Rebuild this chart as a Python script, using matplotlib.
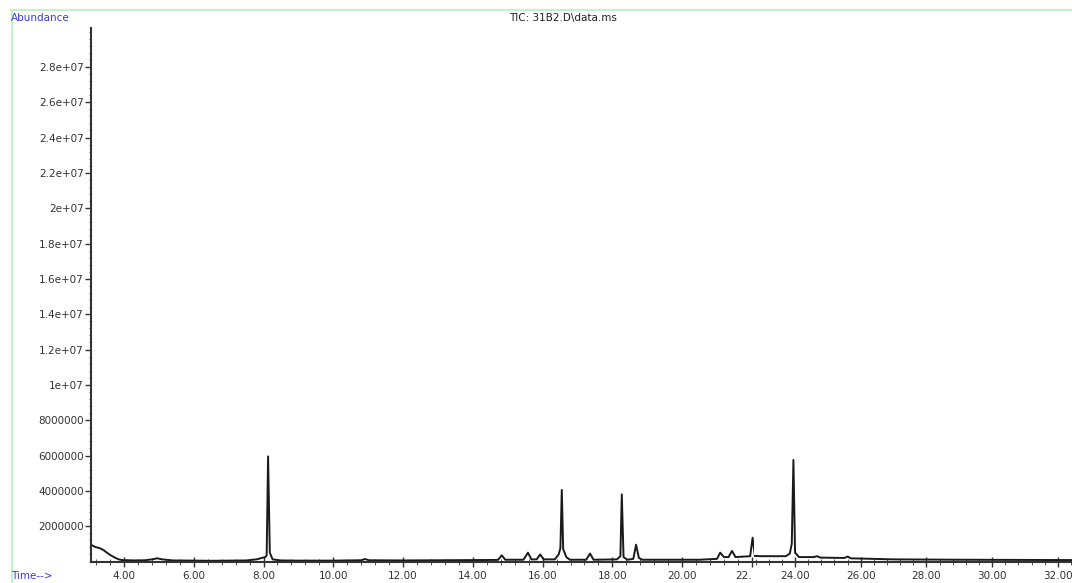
import matplotlib.pyplot as plt
from matplotlib.ticker import MultipleLocator, FixedLocator

# Retention time (min) and abundance (x1e6)
time_min = [3.05, 3.18, 3.31, 3.41, 3.51, 3.62, 3.74, 3.85, 3.94, 4.30, 4.60,
            4.80, 4.95, 5.10, 5.40, 6.00, 6.50, 7.00, 7.50, 7.80, 7.95, 8.05,
            8.09, 8.13, 8.18, 8.26, 8.50, 9.00, 10.00, 10.80, 10.91, 11.02,
            12.00, 13.00, 14.00, 14.72, 14.83, 14.93, 15.45, 15.58, 15.68,
            15.83, 15.93, 16.03, 16.35, 16.46, 16.51, 16.55, 16.59, 16.68,
            16.78, 17.25, 17.36, 17.46, 18.13, 18.23, 18.27, 18.32, 18.43,
            18.60, 18.68, 18.76, 18.86, 19.50, 20.50, 21.00, 21.09, 21.20,
            21.33, 21.43, 21.53, 21.95, 22.02, 22.08, 22.15, 23.00, 23.72,
            23.84, 23.90, 23.95, 24.00, 24.12, 24.57, 24.67, 24.77, 25.50,
            25.60, 25.70, 27.00, 29.00, 32.50]
abundance_e6 = [0.95, 0.82, 0.75, 0.65, 0.50, 0.35, 0.22, 0.12, 0.08, 0.06, 0.07,
                0.12, 0.18, 0.12, 0.06, 0.05, 0.04, 0.05, 0.06, 0.12, 0.20, 0.25,
                0.35, 5.95, 0.50, 0.12, 0.06, 0.05, 0.05, 0.07, 0.14, 0.07,
                0.06, 0.07, 0.08, 0.09, 0.35, 0.10, 0.10, 0.50, 0.12,
                0.12, 0.40, 0.12, 0.12, 0.40, 0.75, 4.05, 0.70, 0.25,
                0.10, 0.10, 0.45, 0.10, 0.12, 0.30, 3.80, 0.25, 0.10,
                0.15, 0.95, 0.20, 0.10, 0.10, 0.10, 0.15, 0.50, 0.25,
                0.25, 0.60, 0.25, 0.30, 1.35, 0.40, 0.35, 0.30, 0.30,
                0.45, 1.00, 5.75, 0.50, 0.25, 0.25, 0.30, 0.22, 0.20,
                0.28, 0.18, 0.12, 0.10, 0.08]

y_ticks = [2e6, 4e6, 6e6, 8e6, 1e7, 1.2e7, 1.4e7, 1.6e7, 1.8e7, 2e7,
           2.2e7, 2.4e7, 2.6e7, 2.8e7]
y_labels = ["2000000", "4000000", "6000000", "8000000", "1e+07", "1.2e+07",
            "1.4e+07", "1.6e+07", "1.8e+07", "2e+07", "2.2e+07", "2.4e+07",
            "2.6e+07", "2.8e+07"]
# the printout is spliced just after 22 min, so two time segments
left_ticks = [4, 6, 8, 10, 12, 14, 16, 18, 20, 22]
left_labels = ["4.00", "6.00", "8.00", "10.00", "12.00", "14.00", "16.00",
               "18.00", "20.00", "22."]
right_ticks = [24, 26, 28, 30, 32]
right_labels = ["24.00", "26.00", "28.00", "30.00", "32.00"]

W, H = 1072, 583
fig = plt.figure(figsize=(W / 100, H / 100), dpi=100)
bottom = 1 - 561.5 / H
height = (561.5 - 28) / H
ax1 = fig.add_axes([91 / W, bottom, (754 - 91) / W, height])
ax2 = fig.add_axes([754 / W, bottom, (W - 754) / W, height])

abundance = [a * 1e6 for a in abundance_e6]

for ax, lims, ticks, labels in [(ax1, (3.054, 22.06), left_ticks, left_labels),
                                (ax2, (22.75, 32.43), right_ticks, right_labels)]:
    ax.plot(time_min, abundance, color="#1a1a1a", linewidth=1.4)
    ax.set_xlim(*lims)
    ax.set_ylim(0, 3.02e7)
    ax.xaxis.set_major_locator(FixedLocator(ticks))
    ax.set_xticklabels(labels)
    ax.xaxis.set_minor_locator(MultipleLocator(0.4))
    ax.tick_params(axis="x", which="major", labelsize=7.5, labelcolor="#333333",
                   color="#333333", direction="inout", length=7, width=1, pad=3)
    ax.tick_params(axis="x", which="minor", direction="inout", length=4,
                   color="#333333")
    for side in ["top", "right"]:
        ax.spines[side].set_visible(False)
    ax.spines["bottom"].set_color("#333333")
    ax.spines["bottom"].set_linewidth(1.5)
    ax.patch.set_alpha(0)

# truncated "22." label sits left of its tick
ax1.get_xticklabels()[-1].set_horizontalalignment("right")

ax1.yaxis.set_major_locator(FixedLocator(y_ticks))
ax1.set_yticklabels(y_labels)
ax1.yaxis.set_minor_locator(MultipleLocator(4e5))
ax1.tick_params(axis="y", which="major", labelsize=7.5, labelcolor="#333333",
                color="#333333", length=4, width=1, pad=1)
ax1.tick_params(axis="y", which="minor", length=1.5, color="#555555")
ax1.spines["left"].set_color("#333333")
ax1.spines["left"].set_linewidth(1.5)

ax2.spines["left"].set_visible(False)
ax2.set_yticks([])

# light frame lines of the original printout
fig.add_artist(plt.Line2D([0.01, 1.0], [0.983, 0.983], color="#c8f0c8", linewidth=1.5))
fig.add_artist(plt.Line2D([0.011, 0.011], [0.0, 0.983], color="#c8f0c8", linewidth=1.5))

fig.text(0.010, 0.969, "Abundance", color="#3a3adf", fontsize=7.5, va="center")
fig.text(0.010, 0.012, "Time-->", color="#3a3adf", fontsize=7.5, va="center")
fig.text(0.525, 0.969, "TIC: 31B2.D\\data.ms", color="#222222", fontsize=7.5,
         va="center", ha="center")

plt.savefig("out.png", dpi=100)
